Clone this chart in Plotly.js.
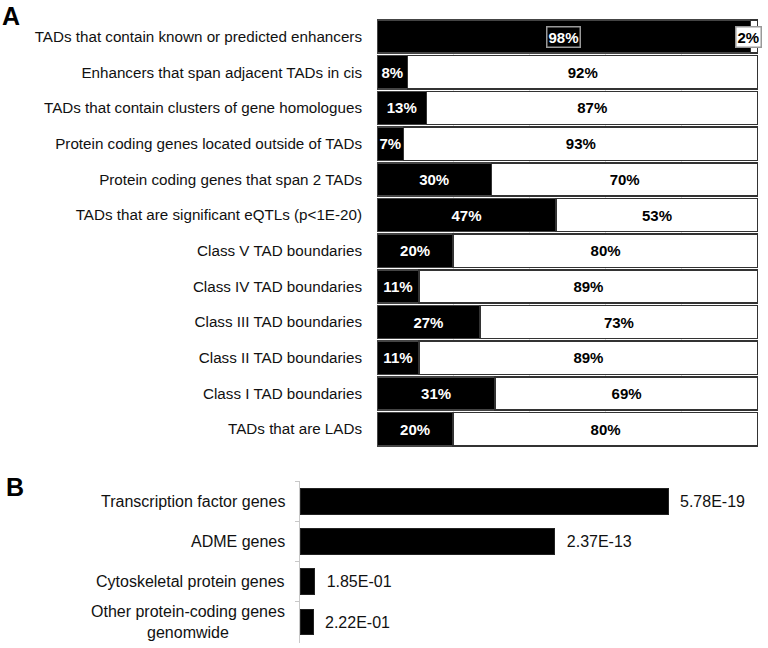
<!DOCTYPE html>
<html>
<head>
<meta charset="utf-8">
<script src="https://cdn.plot.ly/plotly-3.0.1.min.js"></script>
<style>
  body { margin: 0; background: #fff; }
  #chart { width: 768px; height: 648px; }
</style>
</head>
<body>
<div id="chart"></div>
<script>
// panel A: share of features (black) vs rest (white), in %
const tadCategories = [
    'TADs that contain known or predicted enhancers',
    'Enhancers that span adjacent TADs in cis',
    'TADs that contain clusters of gene homologues',
    'Protein coding genes located outside of TADs',
    'Protein coding genes that span 2 TADs',
    'TADs that are significant eQTLs (p<1E-20)',
    'Class V TAD boundaries',
    'Class IV TAD boundaries',
    'Class III TAD boundaries',
    'Class II TAD boundaries',
    'Class I TAD boundaries',
    'TADs that are LADs'
];
const tadYes = [98, 8, 13, 7, 30, 47, 20, 11, 27, 11, 31, 20];
const tadNo = [2, 92, 87, 93, 70, 53, 80, 89, 73, 89, 69, 80];

// panel B: enrichment, bar length = -log10(p)
const geneSets = [
    'Transcription factor genes',
    'ADME genes',
    'Cytoskeletal protein genes',
    'Other protein-coding genes<br>genomwide'
];
const geneScore = [18.24, 12.63, 0.73, 0.65];
const genePLabels = ['5.78E-19', '2.37E-13', '1.85E-01', '2.22E-01'];

const FONT = 'Liberation Sans, Arial, sans-serif';

// first row gets boxed labels as annotations, so leave its bar text empty
const yesText = tadYes.map((v, i) => i === 0 ? '' : v + '%');
const noText = tadNo.map((v, i) => i === 0 ? '' : v + '%');

const yesTrace = {
    type: 'bar',
    orientation: 'h',
    y: tadCategories,
    x: tadYes,
    width: 0.93,
    text: yesText,
    textposition: 'inside',
    insidetextanchor: 'middle',
    textangle: 0,
    constraintext: 'none',
    textfont: {family: FONT, size: 15, color: '#fff', weight: 'bold'},
    marker: {color: '#000', line: {color: '#444', width: 1.5}},
    xaxis: 'x',
    yaxis: 'y',
    hoverinfo: 'none'
};

const noTrace = {
    type: 'bar',
    orientation: 'h',
    y: tadCategories,
    x: tadNo,
    width: 0.93,
    text: noText,
    textposition: 'inside',
    insidetextanchor: 'middle',
    textangle: 0,
    constraintext: 'none',
    textfont: {family: FONT, size: 15, color: '#000', weight: 'bold'},
    marker: {color: '#fff', line: {color: '#333', width: 1.5}},
    xaxis: 'x',
    yaxis: 'y',
    hoverinfo: 'none'
};

const geneTrace = {
    type: 'bar',
    orientation: 'h',
    y: geneSets,
    x: geneScore,
    width: 0.64,
    text: genePLabels.map(t => '\u00a0\u00a0' + t),
    textposition: 'outside',
    textangle: 0,
    cliponaxis: false,
    textfont: {family: FONT, size: 16, color: '#111'},
    marker: {color: '#000', line: {color: '#222', width: 1}},
    xaxis: 'x2',
    yaxis: 'y2',
    hoverinfo: 'none'
};

const annotations = [
    {text: '<b>A</b>', xref: 'paper', yref: 'paper', x: 0.0, y: 1.0, xanchor: 'left', yanchor: 'top',
        showarrow: false, font: {family: FONT, size: 25, color: '#000'}},
    {text: '<b>B</b>', xref: 'paper', yref: 'paper', x: 0.005, y: 0.273, xanchor: 'left', yanchor: 'top',
        showarrow: false, font: {family: FONT, size: 25, color: '#000'}},
    {text: '<b>' + tadYes[0] + '%</b>', xref: 'x', yref: 'y', x: tadYes[0] / 2, y: tadCategories[0],
        showarrow: false, font: {family: FONT, size: 15, color: '#fff'},
        bordercolor: '#999', borderwidth: 1.5, borderpad: 1},
    {text: '<b>' + tadNo[0] + '%</b>', xref: 'x', yref: 'y', x: tadYes[0] + tadNo[0] / 2, y: tadCategories[0],
        xshift: -6, showarrow: false, font: {family: FONT, size: 15, color: '#000'},
        bgcolor: '#fff', bordercolor: '#999', borderwidth: 1.5, borderpad: 1}
];

geneSets.forEach(function (name) {
    annotations.push({
        text: name, xref: 'paper', yref: 'y2', x: 287 / 768, y: name,
        xanchor: 'right', align: 'center', showarrow: false,
        font: {family: FONT, size: 16, color: '#111'}
    });
});

const layout = {
    width: 768,
    height: 648,
    margin: {l: 0, r: 0, t: 0, b: 0},
    paper_bgcolor: '#fff',
    plot_bgcolor: 'rgba(0,0,0,0)',
    showlegend: false,
    barmode: 'stack',
    font: {family: FONT, color: '#111'},
    xaxis: {
        domain: [377 / 768, 758 / 768],
        range: [0, 100],
        showgrid: true,
        gridcolor: '#dcdcdc',
        dtick: 20,
        zeroline: false,
        showticklabels: false,
        fixedrange: true
    },
    yaxis: {
        domain: [1 - 447 / 648, 1 - 18.75 / 648],
        autorange: 'reversed',
        showgrid: false,
        ticklabelstandoff: 14,
        tickfont: {family: FONT, size: 15.2, color: '#111'},
        fixedrange: true
    },
    xaxis2: {
        anchor: 'y2',
        domain: [300 / 768, 744 / 768],
        range: [0, 22],
        showgrid: false,
        zeroline: false,
        showticklabels: false,
        fixedrange: true
    },
    yaxis2: {
        anchor: 'x2',
        domain: [1 - 643 / 648, 1 - 481 / 648],
        autorange: 'reversed',
        showgrid: false,
        showline: true,
        linecolor: '#c8c8c8',
        linewidth: 1,
        ticks: 'outside',
        tickson: 'boundaries',
        ticklen: 4,
        tickcolor: '#c8c8c8',
        showticklabels: false,
        fixedrange: true
    },
    annotations: annotations
};

Plotly.newPlot('chart', [yesTrace, noTrace, geneTrace], layout, {staticPlot: true});
</script>
</body>
</html>
